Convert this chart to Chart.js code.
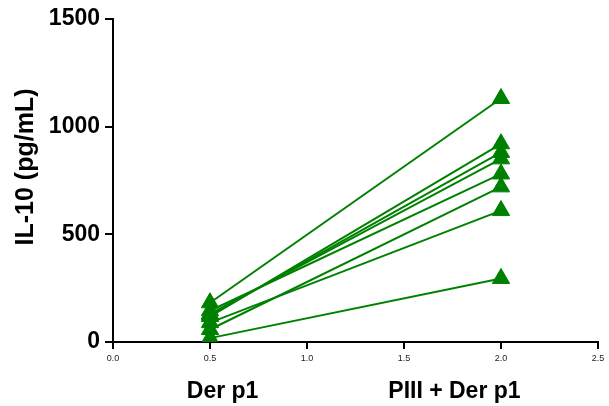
<!DOCTYPE html>
<html>
<head>
<meta charset="utf-8">
<script src="https://cdn.jsdelivr.net/npm/chart.js@4.4.1/dist/chart.umd.min.js"></script>
<style>
    html, body { margin: 0; padding: 0; background: #fff; }
    #wrap { width: 609px; height: 406px; }
</style>
</head>
<body>
<div id="wrap"><canvas id="il10-chart"></canvas></div>
<script>
    // IL-10 per donor, paired between the two stimulations
    var groupLabels = ['Der p1', 'PIII + Der p1'];
    var groupX = [0.5, 2.0];
    var derP1 = [182, 118, 125, 130, 145, 58, 90, 18];
    var piiiDerP1 = [1130, 920, 880, 850, 780, 720, 610, 295];
    var yTicks = [0, 500, 1000, 1500];
    var xTicks = [0, 0.5, 1.0, 1.5, 2.0, 2.5];

    var green = '#008000';
    var fontFamily = '"Liberation Sans", Arial, Helvetica, sans-serif';

    // where the group names sit along the x axis
    var groupLabelX = [0.565, 1.76];

    var datasets = [];

    // one segment per donor
    for (var i = 0; i < derP1.length; i++) {
        datasets.push({
            data: [{x: groupX[0], y: derP1[i]}, {x: groupX[1], y: piiiDerP1[i]}],
            showLine: true,
            borderColor: green,
            borderWidth: 2,
            pointRadius: 0,
            order: 2
        });
    }

    // triangles drawn over the segments
    [derP1, piiiDerP1].forEach(function (values, g) {
        datasets.push({
            data: values.map(function (v) { return {x: groupX[g], y: v}; }),
            showLine: false,
            pointStyle: 'triangle',
            pointRadius: 10,
            pointBorderWidth: 1,
            pointBackgroundColor: green,
            pointBorderColor: green,
            order: 1
        });
    });

    var axisText = {
        id: 'axisText',
        afterDraw: function (chart) {
            var ctx = chart.ctx;
            var xs = chart.scales.x;

            ctx.save();
            ctx.fillStyle = '#000';
            ctx.font = 'bold 25px ' + fontFamily;
            ctx.textAlign = 'center';
            ctx.textBaseline = 'alphabetic';
            ctx.translate(33, 167);
            ctx.rotate(-Math.PI / 2);
            ctx.fillText('IL-10 (pg/mL)', 0, 0);
            ctx.restore();

            ctx.save();
            ctx.fillStyle = '#000';
            ctx.font = 'bold 23px ' + fontFamily;
            ctx.textAlign = 'center';
            ctx.textBaseline = 'alphabetic';
            for (var k = 0; k < groupLabels.length; k++) {
                ctx.fillText(groupLabels[k], xs.getPixelForValue(groupLabelX[k]), 398);
            }
            ctx.restore();
        }
    };

    var ctx = document.getElementById('il10-chart').getContext('2d');
    var chart = new Chart(ctx, {
        type: 'scatter',
        data: {datasets: datasets},
        options: {
            responsive: true, maintainAspectRatio: false,
            animation: false,
            layout: {
                padding: {left: 0, right: 9, top: 17, bottom: 0}
            },
            plugins: {
                legend: {display: false},
                tooltip: {enabled: false}
            },
            scales: {
                x: {
                    type: 'linear',
                    min: 0, max: 2.5,
                    afterFit: function (s) { s.height = 64; },
                    afterBuildTicks: function (s) {
                        s.ticks = xTicks.map(function (v) { return {value: v}; });
                    },
                    ticks: {
                        callback: function (v) { return Number(v).toFixed(1); },
                        font: {family: fontFamily, size: 9},
                        color: '#222',
                        padding: 4,
                        maxRotation: 0
                    },
                    grid: {
                        drawOnChartArea: false,
                        color: '#000',
                        lineWidth: 2,
                        tickLength: 7
                    },
                    border: {color: '#000', width: 2}
                },
                y: {
                    min: 0, max: 1500,
                    afterFit: function (s) { s.width = 113; },
                    afterBuildTicks: function (s) {
                        s.ticks = yTicks.map(function (v) { return {value: v}; });
                    },
                    ticks: {
                        callback: function (v) { return String(v); },
                        font: {family: fontFamily, size: 23, weight: 'bold'},
                        color: '#000',
                        padding: 5
                    },
                    grid: {
                        drawOnChartArea: false,
                        color: '#000',
                        lineWidth: 2,
                        tickLength: 8
                    },
                    border: {color: '#000', width: 2}
                }
            }
        },
        plugins: [axisText]
    });
</script>
</body>
</html>
